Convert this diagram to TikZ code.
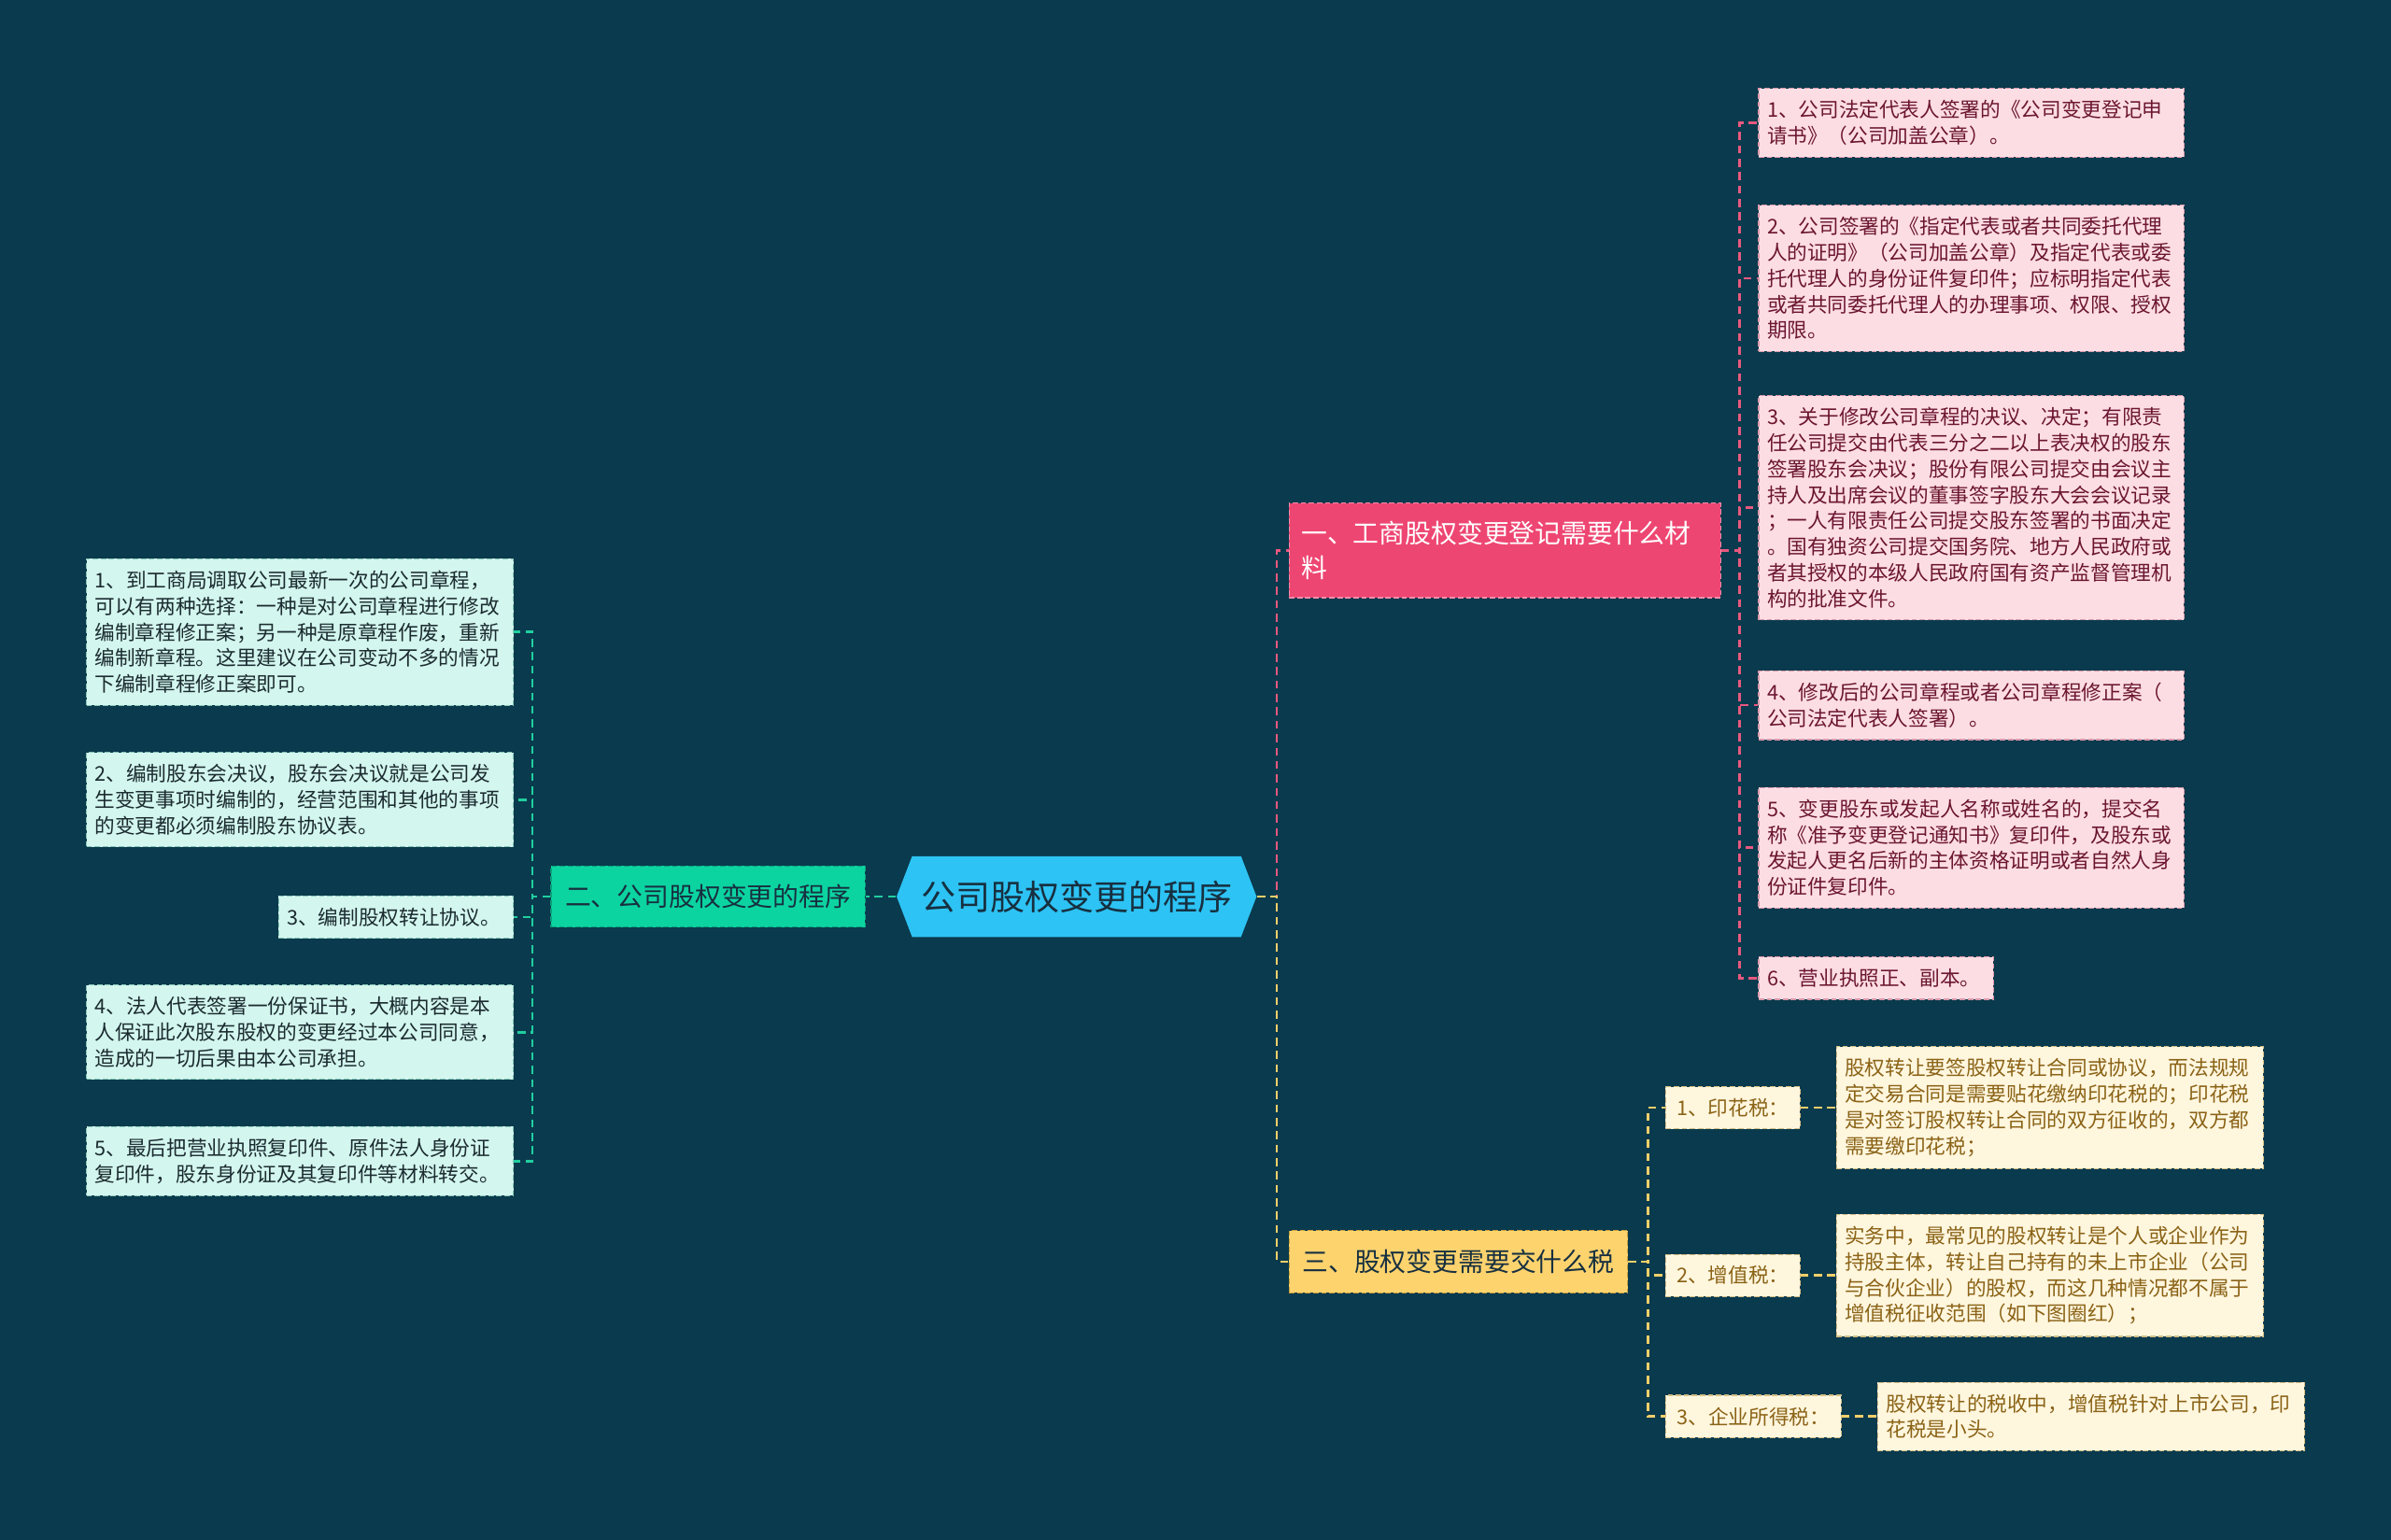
\documentclass[tikz,border=0pt]{standalone}
\usepackage{fontspec}
\usepackage{tikz}
\usetikzlibrary{positioning,shapes.symbols}
\newfontfamily\cjk{Noto Sans CJK SC}
\definecolor{bg}{HTML}{0A3A4D}
\definecolor{rootfill}{HTML}{2DC3F4}
\definecolor{roottext}{HTML}{173040}
\definecolor{bafill}{HTML}{EE4672}
\definecolor{baline}{HTML}{F48DAA}
\definecolor{bbfill}{HTML}{0CD4A1}
\definecolor{bbline}{HTML}{0A9E7A}
\definecolor{bcfill}{HTML}{FDD36E}
\definecolor{bcline}{HTML}{C9A040}
\definecolor{pinkfill}{HTML}{FDDDE4}
\definecolor{pinkline}{HTML}{D99AAB}
\definecolor{pinktext}{HTML}{6B1630}
\definecolor{greenfill}{HTML}{D3F6EE}
\definecolor{greenline}{HTML}{86C7B8}
\definecolor{greentext}{HTML}{1B2B30}
\definecolor{yellowfill}{HTML}{FFF6DE}
\definecolor{yellowline}{HTML}{D2BE86}
\definecolor{yellowtext}{HTML}{8A6316}
\definecolor{pinkedge}{HTML}{E8587F}
\definecolor{greenedge}{HTML}{20CFA0}
\definecolor{yellowedge}{HTML}{F2CF6A}

\tikzset{
  leaf/.style={draw, dash pattern=on 2pt off 1pt, align=left, anchor=west,
    inner xsep=0.11cm, inner ysep=4.4pt, font=\cjk\fontsize{7.55pt}{9.7pt}\selectfont},
  pinkleaf/.style={leaf, draw=pinkline, fill=pinkfill, text=pinktext, text width=5.36cm},
  greenleaf/.style={leaf, draw=greenline, fill=greenfill, text=greentext, text width=5.38cm},
  yellowleaf/.style={leaf, draw=yellowline, fill=yellowfill, text=yellowtext, text width=5.38cm},
  yellowsub/.style={leaf, draw=yellowline, fill=yellowfill, text=yellowtext},
  branch/.style={draw, dash pattern=on 2pt off 1pt, anchor=west, align=left,
    font=\cjk\fontsize{9.7pt}{13pt}\selectfont, text=roottext},
  link/.style={line width=0.9pt, dash pattern=on 3pt off 2pt}
}

\begin{document}
\begin{tikzpicture}[x=0.02cm, y=-0.02cm]
\fill[bg] (0,0) rectangle (1568,1010);

% centre
\node[signal, signal to=west and east, signal pointer angle=138, fill=rootfill,
  minimum width=4.42cm, minimum height=1.06cm, text=roottext,
  font=\cjk\fontsize{12.9pt}{14pt}\selectfont] (root) at (706,588) {公司股权变更的程序};

% main branches
\node[branch, draw=baline, fill=bafill, text=white, text width=5.34cm, inner xsep=0.16cm,
  minimum height=1.24cm] (mat) at (845,361) {一、工商股权变更登记需要什么材\\料};
\node[branch, draw=bbline, fill=bbfill, minimum width=4.12cm, minimum height=0.8cm,
  align=center] (proc) at (361,588) {二、公司股权变更的程序};
\node[branch, draw=bcline, fill=bcfill, minimum width=4.44cm, minimum height=0.82cm,
  align=center] (tax) at (845,827.5) {三、股权变更需要交什么税};

% materials
\node[pinkleaf] (m1) at (1153,80.5) {1、公司法定代表人签署的《公司变更登记申\\请书》（公司加盖公章）。};
\node[pinkleaf] (m2) at (1153,182.5) {2、公司签署的《指定代表或者共同委托代理\\人的证明》（公司加盖公章）及指定代表或委\\托代理人的身份证件复印件；应标明指定代表\\或者共同委托代理人的办理事项、权限、授权\\期限。};
\node[pinkleaf] (m3) at (1153,333) {3、关于修改公司章程的决议、决定；有限责\\任公司提交由代表三分之二以上表决权的股东\\签署股东会决议；股份有限公司提交由会议主\\持人及出席会议的董事签字股东大会会议记录\\；一人有限责任公司提交股东签署的书面决定\\。国有独资公司提交国务院、地方人民政府或\\者其授权的本级人民政府国有资产监督管理机\\构的批准文件。};
\node[pinkleaf] (m4) at (1153,462.5) {4、修改后的公司章程或者公司章程修正案（\\公司法定代表人签署）。};
\node[pinkleaf] (m5) at (1153,556) {5、变更股东或发起人名称或姓名的，提交名\\称《准予变更登记通知书》复印件，及股东或\\发起人更名后新的主体资格证明或者自然人身\\份证件复印件。};
\node[pinkleaf, text width=2.86cm] (m6) at (1153,641.5) {6、营业执照正、副本。};

% procedure
\node[greenleaf, anchor=east] (p1) at (337,414.5) {1、到工商局调取公司最新一次的公司章程，\\可以有两种选择：一种是对公司章程进行修改\\编制章程修正案；另一种是原章程作废，重新\\编制新章程。这里建议在公司变动不多的情况\\下编制章程修正案即可。};
\node[greenleaf, anchor=east] (p2) at (337,524.5) {2、编制股东会决议，股东会决议就是公司发\\生变更事项时编制的，经营范围和其他的事项\\的变更都必须编制股东协议表。};
\node[greenleaf, anchor=east, text width=2.86cm] (p3) at (337,601.5) {3、编制股权转让协议。};
\node[greenleaf, anchor=east] (p4) at (337,677) {4、法人代表签署一份保证书，大概内容是本\\人保证此次股东股权的变更经过本公司同意，\\造成的一切后果由本公司承担。};
\node[greenleaf, anchor=east] (p5) at (337,761.5) {5、最后把营业执照复印件、原件法人身份证\\复印件，股东身份证及其复印件等材料转交。};

% taxes
\node[yellowsub, minimum width=1.76cm] (t1) at (1092,726.5) {1、印花税：};
\node[yellowsub, minimum width=1.76cm] (t2) at (1092,836.5) {2、增值税：};
\node[yellowsub, minimum width=2.3cm] (t3) at (1092,929) {3、企业所得税：};
\node[yellowleaf] (d1) at (1204,726.5) {股权转让要签股权转让合同或协议，而法规规\\定交易合同是需要贴花缴纳印花税的；印花税\\是对签订股权转让合同的双方征收的，双方都\\需要缴印花税；};
\node[yellowleaf] (d2) at (1204,836.5) {实务中，最常见的股权转让是个人或企业作为\\持股主体，转让自己持有的未上市企业（公司\\与合伙企业）的股权，而这几种情况都不属于\\增值税征收范围（如下图圈红）；};
\node[yellowleaf] (d3) at (1231,929) {股权转让的税收中，增值税针对上市公司，印\\花税是小头。};

% connectors
\draw[link, pinkedge] (root.east) -- ++(13,0) |- (mat.west);
\draw[link, yellowedge] (root.east) -- ++(13,0) |- (tax.west);
\draw[link, greenedge] (root.west) -- (proc.east);
\foreach \n in {1,...,6} \draw[link, pinkedge] (mat.east) -- ++(12,0) |- (m\n.west);
\foreach \n in {1,...,5} \draw[link, greenedge] (proc.west) -- ++(-12,0) |- (p\n.east);
\foreach \n in {1,2,3} {
  \draw[link, yellowedge] (tax.east) -- ++(13,0) |- (t\n.west);
  \draw[link, yellowedge] (t\n.east) -- (d\n.west);
}
\end{tikzpicture}
\end{document}
